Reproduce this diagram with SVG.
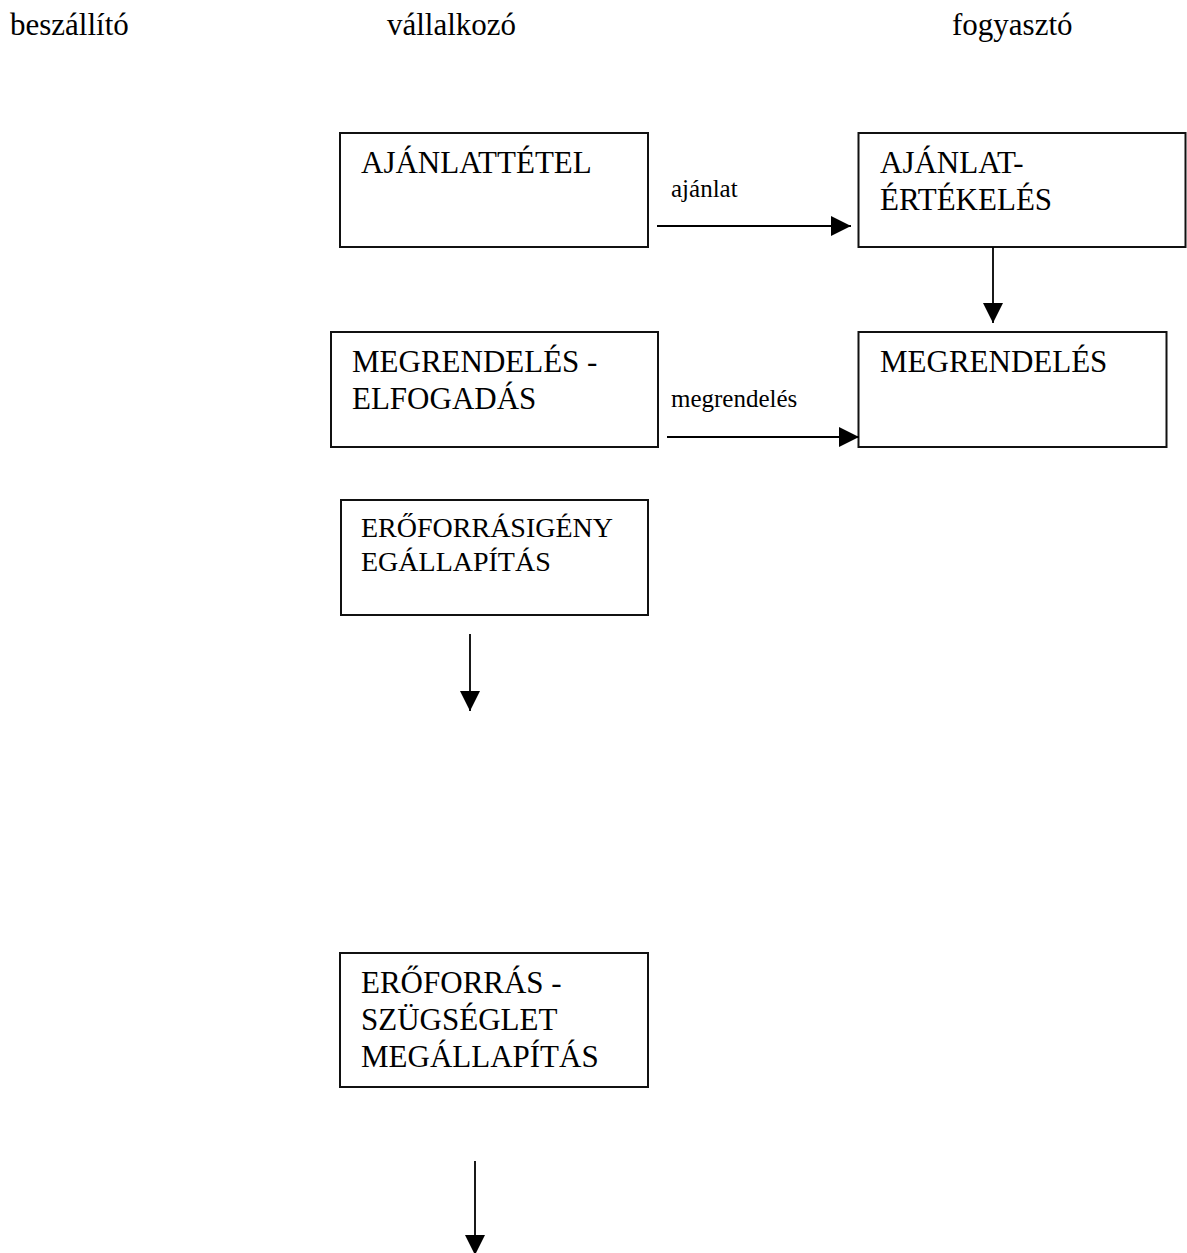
<svg xmlns="http://www.w3.org/2000/svg" width="1187" height="1253" viewBox="0 0 1187 1253">
  <style>
    .box { fill: #fff; stroke: #111; stroke-width: 2; }
    .t { font-family: "Liberation Serif", "Times New Roman", serif; fill: #000; }
    .head { font-size: 31px; }
    .node { font-size: 31px; }
    .small { font-size: 28px; }
    .lbl { font-size: 25px; }
    .conn { stroke: #000; stroke-width: 1.8; fill: none; marker-end: url(#arrow); }
  </style>
  <defs>
    <marker id="arrow" viewBox="0 0 20 20" markerWidth="20" markerHeight="20" markerUnits="userSpaceOnUse" refX="20" refY="10" orient="auto">
      <path d="M0,0 L20,10 L0,20 z" fill="#000"/>
    </marker>
  </defs>
  <rect width="1187" height="1253" fill="#fff"/>

  <!-- column headings -->
  <g id="headings">
    <text class="t head" x="10" y="35">beszállító</text>
    <text class="t head" x="387" y="35">vállalkozó</text>
    <text class="t head" x="952" y="35">fogyasztó</text>
  </g>

  <g id="ajanlattetel">
    <rect class="box" x="340" y="133" width="308" height="114"/>
    <text class="t node" x="361" y="173">AJÁNLATTÉTEL</text>
  </g>

  <g id="ajanlat-ertekeles">
    <rect class="box" x="858.5" y="133" width="327" height="114"/>
    <text class="t node" x="880" y="173">AJÁNLAT-</text>
    <text class="t node" x="880" y="210">ÉRTÉKELÉS</text>
  </g>

  <g id="megrendeles-elfogadas">
    <rect class="box" x="331" y="332" width="327" height="115"/>
    <text class="t node" x="352" y="372">MEGRENDELÉS -</text>
    <text class="t node" x="352" y="409">ELFOGADÁS</text>
  </g>

  <g id="megrendeles">
    <rect class="box" x="858.5" y="332" width="308" height="115"/>
    <text class="t node" x="880" y="372">MEGRENDELÉS</text>
  </g>

  <g id="eroforrasigeny">
    <rect class="box" x="341" y="500" width="307" height="115"/>
    <text class="t small" x="361" y="537">ERŐFORRÁSIGÉNY</text>
    <text class="t small" x="361" y="571">EGÁLLAPÍTÁS</text>
  </g>

  <g id="eroforras-szukseglet">
    <rect class="box" x="340" y="953" width="308" height="134"/>
    <text class="t node" x="361" y="993">ERŐFORRÁS -</text>
    <text class="t node" x="361" y="1030">SZÜGSÉGLET</text>
    <text class="t node" x="361" y="1067">MEGÁLLAPÍTÁS</text>
  </g>

  <!-- connectors -->
  <g id="connectors">
    <line class="conn" x1="657" y1="226" x2="851" y2="226"/>
    <text class="t lbl" x="671" y="197">ajánlat</text>
    <line class="conn" x1="993" y1="247" x2="993" y2="323"/>
    <line class="conn" x1="667" y1="437" x2="859" y2="437"/>
    <text class="t lbl" x="671" y="407">megrendelés</text>
    <line class="conn" x1="470" y1="634" x2="470" y2="711"/>
    <line class="conn" x1="475" y1="1161" x2="475" y2="1255"/>
  </g>
</svg>
